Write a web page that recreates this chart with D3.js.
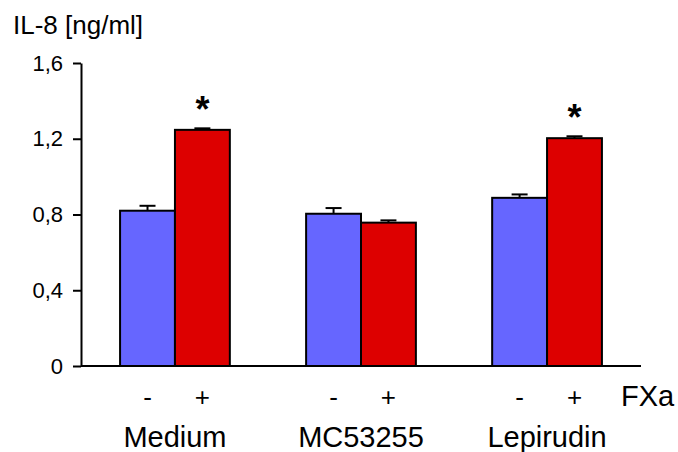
<!DOCTYPE html>
<html>
<head>
<meta charset="utf-8">
<script src="https://cdn.jsdelivr.net/npm/d3@7"></script>
<style>
  html, body { margin: 0; padding: 0; background: #fff; }
  svg { display: block; font-family: "Liberation Sans", Arial, sans-serif; }
</style>
</head>
<body>
<svg id="chart" width="678" height="452"></svg>
<script>
// ---- data ----
const groups = ["Medium", "MC53255", "Lepirudin"];
const conditions = ["-", "+"];
const valuesMinus = [0.82, 0.804, 0.888];
const valuesPlus = [1.247, 0.757, 1.203];
const errMinus = [0.026, 0.03, 0.018];
const errPlus = [0.008, 0.012, 0.01];
const significant = [true, false, true];
const yTicks = [0, 0.4, 0.8, 1.2, 1.6];
const yTickLabels = ["0", "0,4", "0,8", "1,2", "1,6"];
const yTitle = "IL-8 [ng/ml]";
const factorLabel = "FXa";
const colors = ["#6666ff", "#dd0000"];

// ---- layout ----
const svg = d3.select("#chart");
const mLeft = 81, mRight = 641, mTop = 63, mBottom = 366;

const x0 = d3.scaleBand().domain(groups).range([mLeft, mRight])
  .paddingInner(0.41).paddingOuter(0.21);
const x1 = d3.scaleBand().domain(conditions).range([0, x0.bandwidth()]).padding(0);
const y = d3.scaleLinear().domain([0, 1.6]).range([mBottom, mTop]);

const rows = [];
groups.forEach((g, i) => {
  rows.push({g, c: "-", v: valuesMinus[i], e: errMinus[i], color: colors[0]});
  rows.push({g, c: "+", v: valuesPlus[i], e: errPlus[i], color: colors[1]});
});

// y axis
const yAxis = d3.axisLeft(y).tickValues(yTicks)
  .tickFormat((d, i) => yTickLabels[i]).tickSize(8).tickPadding(10).tickSizeOuter(0);
const gy = svg.append("g").attr("transform", `translate(${mLeft},0)`).call(yAxis);
gy.select(".domain").attr("stroke", "#000").attr("stroke-width", 2);
gy.selectAll(".tick line").attr("stroke", "#000").attr("stroke-width", 2);
gy.selectAll(".tick text").attr("font-size", 22).attr("fill", "#000")
  .attr("font-family", "Liberation Sans, Arial, sans-serif");

// bars
svg.append("g").selectAll("rect").data(rows).join("rect")
  .attr("x", d => x0(d.g) + x1(d.c))
  .attr("y", d => y(d.v))
  .attr("width", x1.bandwidth())
  .attr("height", d => y(0) - y(d.v))
  .attr("fill", d => d.color)
  .attr("stroke", "#000")
  .attr("stroke-width", 2);

// error bars (upper only)
const eb = svg.append("g").attr("stroke", "#000").attr("stroke-width", 2);
rows.forEach(d => {
  const cx = x0(d.g) + x1(d.c) + x1.bandwidth() / 2;
  eb.append("line").attr("x1", cx).attr("x2", cx).attr("y1", y(d.v)).attr("y2", y(d.v + d.e));
  eb.append("line").attr("x1", cx - 8).attr("x2", cx + 8).attr("y1", y(d.v + d.e)).attr("y2", y(d.v + d.e));
});

// x baseline
svg.append("line").attr("x1", mLeft).attr("x2", mRight).attr("y1", y(0)).attr("y2", y(0))
  .attr("stroke", "#000").attr("stroke-width", 2);

// significance stars
groups.forEach((g, i) => {
  if (!significant[i]) return;
  svg.append("text")
    .attr("x", x0(g) + x1("+") + x1.bandwidth() / 2)
    .attr("y", y(valuesPlus[i] + errPlus[i]) - 6)
    .attr("text-anchor", "middle")
    .attr("font-size", 36)
    .attr("font-weight", "bold")
    .text("*");
});

// condition labels
rows.forEach(d => {
  svg.append("text")
    .attr("x", x0(d.g) + x1(d.c) + x1.bandwidth() / 2)
    .attr("y", 406)
    .attr("text-anchor", "middle")
    .attr("font-size", 26)
    .text(d.c);
});
svg.append("text").attr("x", 621).attr("y", 406).attr("font-size", 29).text(factorLabel);

// group labels
svg.append("g").selectAll("text").data(groups).join("text")
  .attr("x", d => x0(d) + x0.bandwidth() / 2)
  .attr("y", 447)
  .attr("text-anchor", "middle")
  .attr("font-size", 29)
  .text(d => d);

// y title
svg.append("text").attr("x", 13).attr("y", 34).attr("font-size", 26).text(yTitle);
</script>
</body>
</html>
